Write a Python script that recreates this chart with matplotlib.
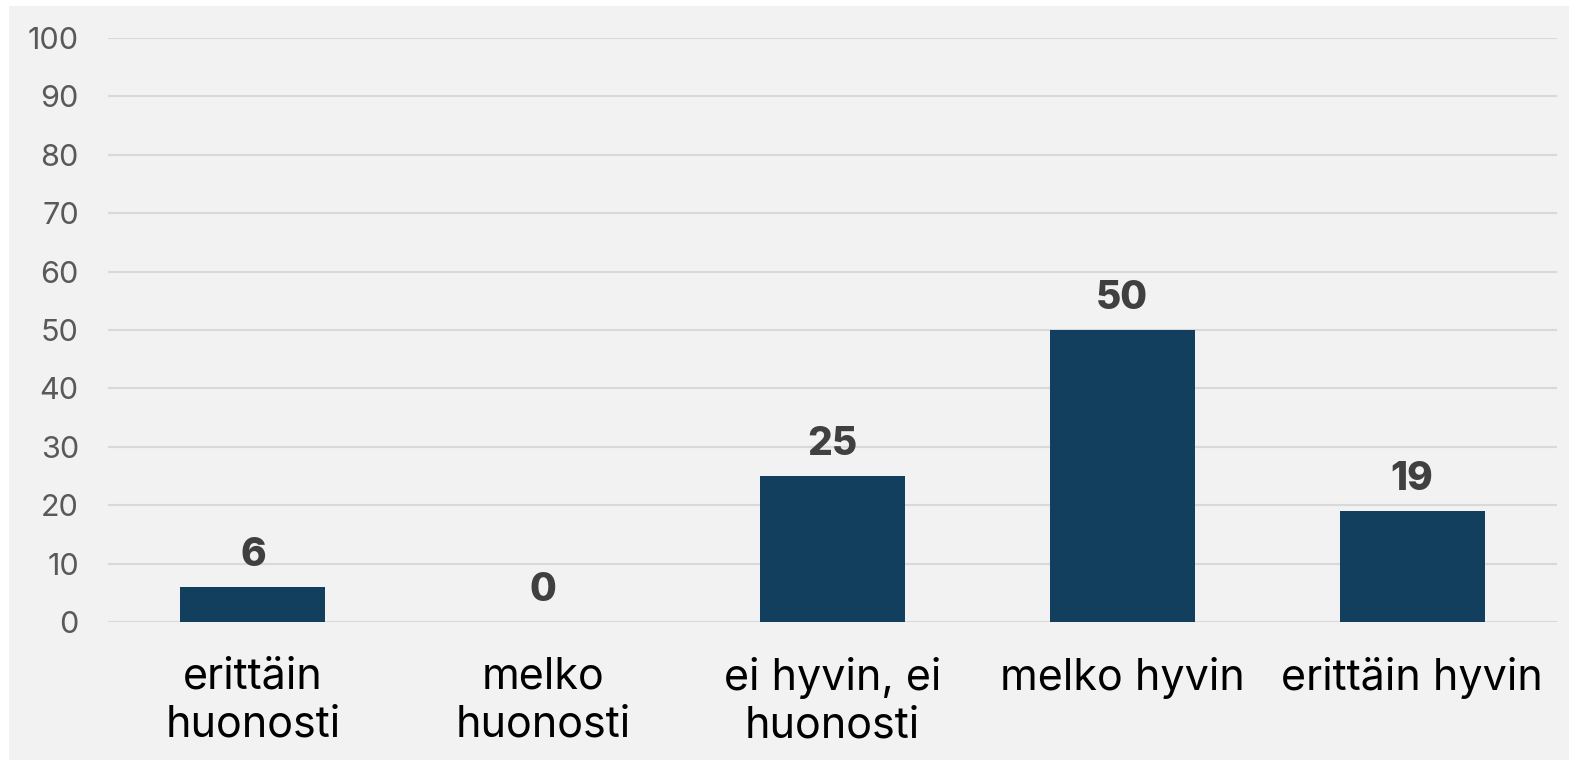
import numpy as np
import matplotlib.pyplot as plt
from matplotlib.patches import Rectangle

# data
categories = ["erittäin\nhuonosti", "melko\nhuonosti", "ei hyvin, ei\nhuonosti", "melko hyvin", "erittäin hyvin"]
values = [6, 0, 25, 50, 19]
yticks = [0, 10, 20, 30, 40, 50, 60, 70, 80, 90, 100]

plt.rcParams['font.family'] = ['Inter', 'DejaVu Sans']

fig = plt.figure(figsize=(15.69, 7.6), dpi=100)
fig.patch.set_facecolor("white")
# grey panel behind chart
panel = Rectangle((9 / 1569, 0), 1 - 9 / 1569, 754 / 760, transform=fig.transFigure,
                  facecolor="#f2f2f2", edgecolor="none", zorder=-10)
fig.add_artist(panel)

ax = fig.add_axes([108 / 1569, 138 / 760, 1449 / 1569, 584 / 760])
ax.set_facecolor("none")

x = np.arange(len(categories))
bars = ax.bar(x, values, width=0.5, color="#133f5f", zorder=3)

for xi, v in zip(x, values):
    ax.annotate(str(v), (xi, v), xytext=(0, 15), textcoords="offset points",
                ha="center", va="baseline", fontsize=28, fontweight="heavy", color="#404040")

ax.set_xlim(-0.5, len(categories) - 0.5)
ax.set_ylim(0, 100)
ax.set_yticks(yticks)
ax.yaxis.grid(True, color="#d9d9d9", linewidth=1.5, zorder=0)
ax.set_axisbelow(True)
for s in ax.spines.values():
    s.set_visible(False)
ax.tick_params(axis="y", length=0, pad=21, labelsize=22, labelcolor="#595959")
ax.set_xticks(x)
ax.set_xticklabels(categories, fontsize=31, color="#000000", linespacing=1.2)
ax.tick_params(axis="x", length=0, pad=25)

fig.savefig("out.png", dpi=100, facecolor=fig.get_facecolor())
